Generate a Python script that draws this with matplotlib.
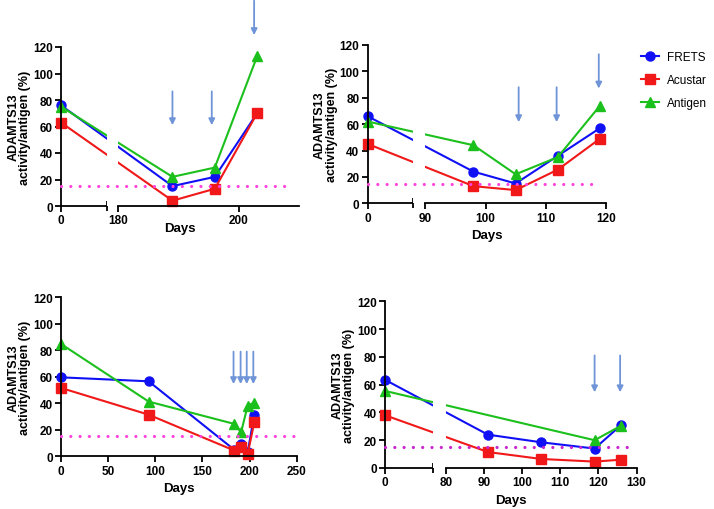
import numpy as np
import matplotlib
matplotlib.use("Agg")
import matplotlib.pyplot as plt

plt.rcParams['font.family'] = ['Liberation Sans', 'DejaVu Sans']
plt.rcParams['font.weight'] = 'bold'
plt.rcParams['axes.labelweight'] = 'bold'

# ---- data ----
series_names = ['FRETS', 'Acustar', 'Antigen']

# panel A (top left, broken axis 0 | 180-210)
a_days = [0, 189, 196, 203]
a_frets = [76, 15, 22, 70]
a_acustar = [63, 4, 13, 70]
a_antigen_days = [0, 189, 196, 203]
a_antigen = [75, 22, 29, 113]
a_arrow_days = [189, 195.5, 202.5]
a_arrow_top = [86.5, 86.5, 155]
a_arrow_tip = [61, 61, 129]
a_xticks = [0, 180, 200]
a_thresh_end = 209

# panel B (top right, broken axis 0 | 90-120)
b_days = [0, 98, 105, 112, 119]
b_frets = [66, 24, 15, 36, 57]
b_acustar = [45, 13, 10, 25.5, 49]
b_antigen_days = [0, 98, 105, 112, 119]
b_antigen = [62, 44, 22, 35, 74]
b_arrow_days = [105.5, 111.8, 118.8]
b_arrow_top = [88, 88, 113]
b_arrow_tip = [61.5, 61.5, 87]
b_xticks = [0, 90, 100, 110, 120]
b_thresh_end = 119

# panel C (bottom left, continuous axis 0-250)
c_days = [0, 93, 184, 191, 198, 205]
c_frets = [59.6, 56.6, 4.8, 9.3, 3.0, 31.4]
c_acustar = [51.6, 31.4, 4.3, 7.3, 1.8, 25.6]
c_antigen_days = [0, 93, 184, 191, 198, 205]
c_antigen = [84.8, 41.3, 24.4, 18.1, 38.2, 40.5]
c_arrow_days = [183, 190.5, 197, 204]
c_arrow_top = [79, 79, 79, 79]
c_arrow_tip = [54.5, 54.5, 54.5, 54.5]
c_xticks = [0, 50, 100, 150, 200, 250]
c_thresh_end = 247

# panel D (bottom right, broken axis 0 | 80-130)
d_days = [0, 91, 105, 119, 126]
d_frets = [63.5, 24, 18.5, 14, 31]
d_acustar = [38, 11.5, 6.5, 4.6, 6]
d_antigen_days = [0, 119, 126]
d_antigen = [55.5, 20, 30.5]
d_arrow_days = [119, 125.7]
d_arrow_top = [81, 81]
d_arrow_tip = [54.5, 54.5]
d_xticks = [0, 80, 90, 100, 110, 120, 130]
d_thresh_end = 128

threshold = 15

# ---- styles ----
colors = {'FRETS': '#1010f5', 'Acustar': '#f01818', 'Antigen': '#1cc01c'}
markers = {'FRETS': 'o', 'Acustar': 's', 'Antigen': '^'}
arrow_color = '#6f94d8'

W, H = 714, 510
fig = plt.figure(figsize=(W / 100, H / 100), dpi=100)


def px_axes(left, top, right, bottom):
    return fig.add_axes([left / W, 1 - bottom / H, (right - left) / W, (bottom - top) / H])


def broken_scale(ax, day_pts, px_pts):
    fwd = lambda d: np.interp(d, day_pts, px_pts)
    inv = lambda p: np.interp(p, px_pts, day_pts)
    ax.set_xscale('function', functions=(fwd, inv))


def style(ax, xticks, xmax, brk=None, labelpad_x=4):
    ax.set_ylim(0, 120)
    ax.set_xlim(0, xmax)
    ax.set_yticks(range(0, 121, 20))
    ax.set_xticks(xticks)
    ax.set_xticklabels([str(t) for t in xticks])
    for s in ['top', 'right']:
        ax.spines[s].set_visible(False)
    for s in ['left', 'bottom']:
        ax.spines[s].set_linewidth(1.3)
    ax.tick_params(axis='both', which='major', direction='out', length=4, width=1.3,
                   labelsize=8.5, pad=2)
    for lab in ax.get_xticklabels() + ax.get_yticklabels():
        lab.set_fontweight('bold')
    ax.set_xlabel('Days', fontsize=9.5, labelpad=labelpad_x, fontweight='bold')
    ax.set_ylabel('ADAMTS13\nactivity/antigen (%)', fontsize=9, labelpad=1,
                  linespacing=1.0, fontweight='bold')
    if brk is not None:
        e1, s2 = brk
        ax.spines['bottom'].set_bounds(s2, xmax)
        ax.plot([0, e1], [0, 0], transform=ax.get_xaxis_transform(), color='black',
                lw=1.3, clip_on=False, solid_capstyle='butt', zorder=5)
        ax.set_xticks([e1, s2], minor=True)
        ax.tick_params(axis='x', which='minor', direction='inout', length=7, width=1.3)
        ax.axvspan(e1, s2, color='white', zorder=2.5, lw=0)


def draw(ax, days, frets, acustar, ant_days, antigen, arr_days, arr_top, arr_tip,
         thresh_end, thresh_color='#ff44dd'):
    data = [(days, frets, 'FRETS'), (days, acustar, 'Acustar'), (ant_days, antigen, 'Antigen')]
    for xs, ys, name in data:
        ax.plot(xs, ys, color=colors[name], marker=markers[name], ms=6.5, lw=1.5,
                label=name, clip_on=False, zorder=2)
    ax.plot([0, thresh_end], [threshold, threshold], color=thresh_color,
            linestyle=(0, (0.01, 2.9)), lw=2.3, dash_capstyle='round',
            zorder=3, clip_on=False)
    for x, y0, y1 in zip(arr_days, arr_top, arr_tip):
        ax.annotate('', xy=(x, y1), xytext=(x, y0), annotation_clip=False,
                    arrowprops=dict(arrowstyle='-|>', color=arrow_color, lw=1.3,
                                    mutation_scale=9, shrinkA=0, shrinkB=0))


# panel A
axA = px_axes(61, 48, 299.5, 207)
broken_scale(axA, [0, 8, 180, 210], [0, 46, 57, 238.5])
draw(axA, a_days, a_frets, a_acustar, a_antigen_days, a_antigen,
     a_arrow_days, a_arrow_top, a_arrow_tip, a_thresh_end)
style(axA, a_xticks, 210, brk=(8, 180), labelpad_x=-3)

# panel B
axB = px_axes(367.7, 46, 606, 204.3)
broken_scale(axB, [0, 8, 90, 120], [0, 45.6, 57.6, 238.3])
draw(axB, b_days, b_frets, b_acustar, b_antigen_days, b_antigen,
     b_arrow_days, b_arrow_top, b_arrow_tip, b_thresh_end)
style(axB, b_xticks, 120, brk=(8, 90))

# panel C
axC = px_axes(61, 298.3, 296.7, 457.3)
draw(axC, c_days, c_frets, c_acustar, c_antigen_days, c_antigen,
     c_arrow_days, c_arrow_top, c_arrow_tip, c_thresh_end)
style(axC, c_xticks, 250)

# panel D
axD = px_axes(385, 302.3, 636.5, 469)
broken_scale(axD, [0, 12, 80, 130], [0, 47.7, 61, 251.5])
draw(axD, d_days, d_frets, d_acustar, d_antigen_days, d_antigen,
     d_arrow_days, d_arrow_top, d_arrow_tip, d_thresh_end, thresh_color='#c824d0')
style(axD, d_xticks, 130, brk=(12, 80))

handles, labels = axB.get_legend_handles_labels()
fig.legend(handles, labels, loc='upper left', bbox_to_anchor=(641 / W, 1 - 52 / H),
           frameon=False, prop={'weight': 'normal', 'size': 8.5}, borderpad=0,
           borderaxespad=0, handlelength=1.5, handletextpad=0.7, labelspacing=0.95)

fig.savefig('out.png', dpi=100)
